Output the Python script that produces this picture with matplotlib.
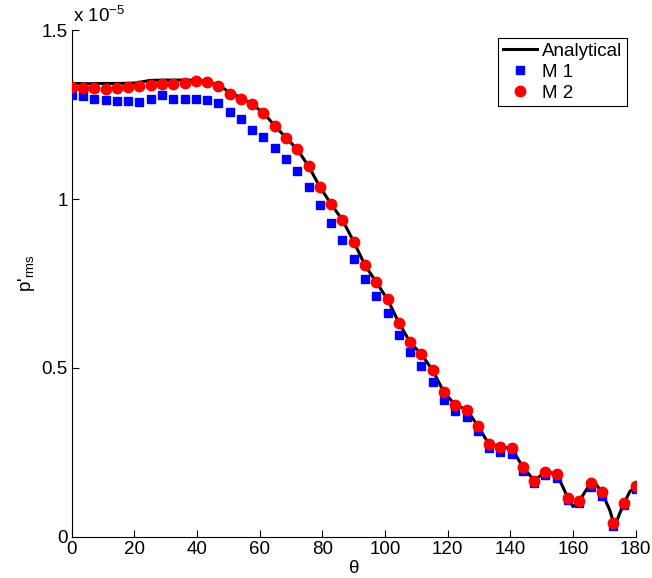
"""Directivity of p'_rms: analytical solution vs two numerical methods."""

import matplotlib
matplotlib.use("Agg")
import matplotlib.pyplot as plt
from matplotlib.ticker import FuncFormatter

plt.rcParams.update(
    {
        "font.family": ["Liberation Sans", "DejaVu Sans"],
        "font.size": 13.5,
        "mathtext.fontset": "custom",
        "mathtext.rm": "Liberation Sans",
        "mathtext.it": "Liberation Sans",
        "xtick.direction": "in",
        "ytick.direction": "in",
    }
)

SCALE = 1e-6

# sample angles of the two methods (deg)
theta = [round(3.6 * i, 1) for i in range(51)]

m1 = [
    13.08, 13.05, 12.97, 12.92, 12.91, 12.90, 12.88, 12.96, 13.07, 12.97,
    12.96, 12.97, 12.94, 12.83, 12.58, 12.36, 12.04, 11.83, 11.50, 11.19,
    10.83, 10.36, 9.81, 9.28, 8.80, 8.22, 7.62, 7.13, 6.62, 5.99,
    5.46, 5.05, 4.59, 4.06, 3.73, 3.55, 3.13, 2.62, 2.52, 2.46,
    1.94, 1.60, 1.83, 1.73, 1.09, 1.01, 1.47, 1.22, 0.33, 0.96,
    1.42,
]

m2 = [
    13.32, 13.30, 13.28, 13.27, 13.28, 13.31, 13.34, 13.37, 13.39, 13.41,
    13.44, 13.48, 13.45, 13.33, 13.12, 12.97, 12.82, 12.55, 12.17, 11.81,
    11.47, 10.97, 10.36, 9.85, 9.38, 8.74, 8.04, 7.54, 7.03, 6.34,
    5.76, 5.41, 4.93, 4.28, 3.91, 3.77, 3.29, 2.74, 2.67, 2.62,
    2.07, 1.67, 1.93, 1.87, 1.15, 1.07, 1.59, 1.32, 0.41, 1.01,
    1.51,
]

# analytical curve
theta_an = [
    0, 5, 10, 15, 20, 22, 25, 30, 36, 41, 44, 47, 50, 54, 57.6,
    61.2, 64.8, 68.4, 72, 75.6, 79.2, 82.8, 86.4, 90, 93.6, 97.2, 100.8,
    104.4, 108, 111.6, 115.2, 118.8, 122.4, 126, 129.6, 133.2, 136.8,
    140.4, 144, 147.6, 151.2, 154.8, 158.4, 160, 162, 165.6, 167.5,
    169.2, 171.7, 173.3, 174.9, 176.4, 178.1, 180,
]
analytical = [
    13.42, 13.41, 13.42, 13.42, 13.43, 13.46, 13.51, 13.52, 13.52, 13.51,
    13.46, 13.36, 13.18, 13.00, 12.80,
    12.55, 12.17, 11.81, 11.47, 10.97, 10.36, 9.85, 9.38, 8.74, 8.04, 7.54, 7.03,
    6.34, 5.76, 5.41, 4.93, 4.28, 3.91, 3.77, 3.29, 2.74, 2.67,
    2.62, 2.07, 1.67, 1.93, 1.87, 1.15, 0.90, 1.07, 1.59, 1.54,
    1.32, 0.80, 0.31, 0.70, 1.02, 1.34, 1.51,
]


def main() -> None:
    fig = plt.figure(figsize=(6.52, 5.78), dpi=100)
    ax = fig.add_axes([0.110, 0.071, 0.865, 0.877])

    ax.plot(theta_an, [v * SCALE for v in analytical], color="black",
            linewidth=2.2, label="Analytical", zorder=2)
    ax.plot(theta, [v * SCALE for v in m1], linestyle="none", marker="s",
            markersize=5.5, color="#0000ff", label="M 1", zorder=3)
    ax.plot(theta, [v * SCALE for v in m2], linestyle="none", marker="o",
            markersize=7.5, color="#ff0000", label="M 2", zorder=4)

    ax.set_xlim(0, 180)
    ax.set_ylim(0, 1.5e-5)
    ax.set_xticks(range(0, 181, 20))
    ax.set_yticks([0, 0.5e-5, 1.0e-5, 1.5e-5])
    ax.yaxis.set_major_formatter(FuncFormatter(lambda v, _: f"{v * 1e5:g}"))
    ax.tick_params(length=5, width=0.8, pad=3)
    ax.text(0.003, 1.008, r"x 10$^{-5}$", transform=ax.transAxes,
            ha="left", va="bottom", fontsize=13.5)

    for side in ("top", "right"):
        ax.spines[side].set_visible(False)

    ax.set_xlabel(r"$\theta$", labelpad=1)
    ax.set_ylabel(r"p'$_{\rm rms}$", labelpad=2)
    ax.yaxis.set_label_coords(-0.062, 0.52)

    leg = ax.legend(loc="upper right", bbox_to_anchor=(0.995, 0.995),
                    fancybox=False, framealpha=1, edgecolor="black",
                    handlelength=1.8, handletextpad=0.3, borderpad=0.25,
                    labelspacing=0.2, borderaxespad=0.3)
    leg.get_frame().set_linewidth(0.8)

    fig.savefig("out.png", dpi=100)


if __name__ == "__main__":
    main()
